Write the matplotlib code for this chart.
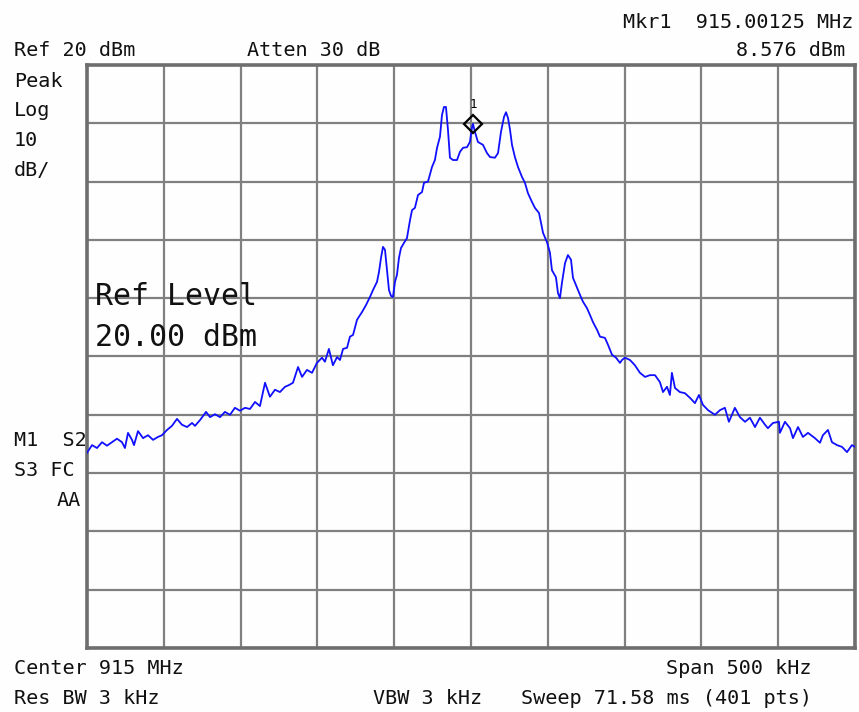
import matplotlib
matplotlib.use("Agg")
import matplotlib.pyplot as plt
import numpy as np

center_mhz = 915.0
span_khz = 500.0
ref_dbm = 20.0
db_per_div = 10.0

freq_offset_khz = [
    -250.0, -246.7, -243.5, -240.2, -237.0, -233.7, -230.5, -227.2, -225.3, -223.3,
    -220.7, -219.4, -216.8, -213.5, -210.3, -207.0, -203.8, -201.2, -197.9, -194.7,
    -191.4, -188.2, -184.9, -181.6, -179.7, -176.4, -172.5, -169.9, -166.7, -163.4,
    -160.2, -156.9, -153.7, -150.4, -147.1, -143.9, -140.6, -137.4, -134.1, -130.9,
    -127.6, -124.4, -121.1, -118.5, -115.9, -112.6, -110.0, -106.8, -103.5, -100.3,
    -97.0, -95.1, -92.5, -89.9, -87.2, -85.3, -83.3, -80.7, -78.8, -76.8,
    -74.2, -71.0, -68.4, -65.8, -63.8, -61.2, -59.9, -58.6, -57.3, -56.0,
    -54.7, -53.4, -52.1, -50.8, -49.5, -48.2, -46.9, -45.6, -43.6, -41.7,
    -39.7, -38.4, -36.5, -34.5, -31.9, -30.6, -28.0, -25.4, -23.5, -22.1,
    -20.2, -18.9, -17.6, -16.3, -15.0, -13.7, -11.7, -9.1, -7.2, -5.2,
    -2.6, -0.7, 0.6, 1.3, 2.6, 4.5, 7.8, 10.4, 12.4, 15.6,
    17.6, 19.5, 21.5, 22.8, 24.1, 25.4, 26.7, 28.6, 30.6, 33.2,
    35.1, 37.1, 39.7, 41.6, 44.3, 46.9, 49.5, 51.4, 52.7, 55.3,
    56.6, 57.9, 59.2, 61.2, 63.1, 65.1, 66.4, 69.0, 70.9, 72.9,
    75.5, 77.5, 79.4, 82.0, 84.0, 87.2, 89.2, 91.8, 94.4, 97.0,
    98.3, 100.2, 103.5, 106.7, 110.0, 113.3, 116.5, 119.8, 123.0, 125.0,
    127.6, 129.5, 130.8, 132.8, 136.0, 139.3, 142.6, 145.8, 148.4, 151.0,
    154.3, 158.8, 162.1, 165.3, 167.9, 171.8, 175.1, 178.4, 181.6, 184.9,
    188.1, 191.4, 193.3, 196.6, 200.5, 201.1, 204.4, 207.7, 209.6, 212.9,
    216.1, 219.4, 223.9, 227.2, 229.1, 232.4, 235.0, 238.3, 241.5, 244.8,
    248.0, 250.0,
]
level_dbm = [
    -46.5, -45.2, -45.7, -44.7, -45.3, -44.7, -44.1, -44.7, -45.7, -43.1,
    -44.3, -45.2, -42.8, -44.0, -43.5, -44.3, -43.8, -43.5, -42.6, -41.9,
    -40.7, -41.7, -42.1, -41.4, -41.9, -40.9, -39.5, -40.4, -39.9, -40.4,
    -39.5, -40.0, -38.8, -39.3, -38.8, -39.0, -37.8, -38.5, -34.5, -36.9,
    -35.7, -36.1, -35.2, -34.9, -34.5, -31.8, -33.5, -32.3, -32.8, -31.1,
    -30.2, -30.9, -28.7, -31.5, -30.1, -30.6, -28.7, -28.5, -26.6, -26.3,
    -23.7, -22.4, -21.2, -19.8, -18.6, -17.2, -15.5, -13.1, -11.2, -11.7,
    -15.2, -18.6, -19.6, -19.8, -17.2, -16.0, -13.1, -11.4, -10.5, -9.7,
    -6.6, -4.9, -4.5, -2.3, -1.8, -0.2, 0.0, 2.5, 3.7, 5.8,
    7.7, 11.4, 12.8, 12.8, 8.9, 4.1, 3.7, 3.7, 5.1, 5.8,
    5.9, 6.8, 9.2, 9.9, 8.5, 6.8, 6.3, 4.9, 4.2, 4.1,
    4.9, 8.5, 11.1, 11.9, 10.9, 8.9, 6.3, 4.2, 2.5, 0.8,
    -0.2, -2.0, -3.5, -4.5, -5.4, -8.8, -10.4, -12.2, -15.2, -16.4,
    -19.1, -20.0, -17.4, -14.0, -12.6, -13.4, -16.5, -18.2, -19.4, -20.6,
    -21.7, -22.9, -24.1, -25.4, -26.6, -26.8, -28.0, -29.7, -30.2, -31.1,
    -30.6, -30.2, -30.6, -31.5, -32.8, -33.5, -33.2, -33.2, -34.4, -36.1,
    -35.2, -36.6, -32.8, -35.4, -36.1, -36.3, -37.1, -38.0, -36.6, -38.3,
    -39.2, -40.0, -39.2, -38.8, -41.2, -38.8, -40.4, -41.2, -40.5, -42.1,
    -40.5, -41.7, -42.3, -41.4, -41.2, -43.1, -41.2, -42.3, -44.0, -42.1,
    -43.8, -43.1, -44.0, -44.8, -43.5, -42.6, -44.7, -45.2, -45.5, -46.4,
    -45.2, -45.5,
]

marker_offset_khz = 1.3
marker_level_dbm = 9.9

top_left_labels = ["Peak", "Log", "10", "dB/"]
status_labels = ["M1  S2", "S3 FC", "AA"]

# ---- figure ----
W, H = 859, 712
fig = plt.figure(figsize=(W / 100, H / 100), dpi=100)
fig.patch.set_facecolor("#fefefe")

def fx(px):
    return px / W

def fy(py):
    return 1 - py / H

ax = fig.add_axes([fx(87), fy(648), (855 - 87) / W, (648 - 65) / H])
ax.set_facecolor("#fefefe")

half = span_khz / 2
ax.set_xlim(-half, half)
ax.set_ylim(ref_dbm - 10 * db_per_div, ref_dbm)
ax.set_xticks(np.linspace(-half, half, 11))
ax.set_yticks(np.linspace(ref_dbm - 10 * db_per_div, ref_dbm, 11))
ax.tick_params(length=0, labelbottom=False, labelleft=False)
ax.grid(True, color="#808080", lw=1.6)
ax.set_axisbelow(True)
for s in ax.spines.values():
    s.set_color("#6e6e6e")
    s.set_linewidth(2.6)

ax.plot(freq_offset_khz, level_dbm, color="#1010ff", lw=1.3, zorder=3)
ax.plot([marker_offset_khz], [marker_level_dbm], marker="D", ms=9,
        mfc="none", mec="black", mew=1.6, zorder=4)
ax.annotate("1", (marker_offset_khz, marker_level_dbm), xytext=(0, 9),
            textcoords="offset points", ha="center", va="bottom",
            fontsize=9, family="DejaVu Sans Mono", color="black")

mono = "DejaVu Sans Mono"
fs = 14.5
c = "#111111"

def t(px, py, s, ha="left", size=fs, **kw):
    fig.text(fx(px), fy(py), s, ha=ha, va="baseline", fontsize=size,
             family=mono, color=c, **kw)

t(853, 28, "Mkr1  915.00125 MHz", ha="right")
t(845, 56, "8.576 dBm", ha="right")
t(14, 56, "Ref 20 dBm")
t(247, 56, "Atten 30 dB")
for i, s in enumerate(top_left_labels):
    t(14, 87 + i * 29.5, s)
t(14, 446, status_labels[0])
t(14, 476, status_labels[1])
t(81, 506, status_labels[2], ha="right")
t(14, 674, "Center 915 MHz")
t(812, 674, "Span 500 kHz", ha="right")
t(14, 704, "Res BW 3 kHz")
t(373, 704, "VBW 3 kHz")
t(812, 704, "Sweep 71.58 ms (401 pts)", ha="right")

t(95, 305, "Ref Level", size=21.5)
t(95, 346, "20.00 dBm", size=21.5)

fig.savefig("out.png", dpi=100, facecolor=fig.get_facecolor())
